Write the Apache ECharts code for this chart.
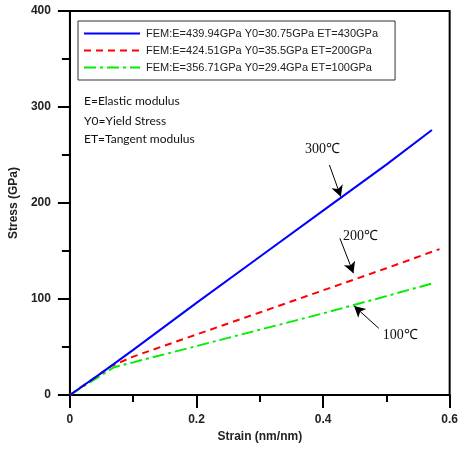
<!DOCTYPE html>
<html><head><meta charset="utf-8">
<script src="https://cdn.jsdelivr.net/npm/echarts@6/dist/echarts.min.js"></script>
<style>html,body{margin:0;padding:0;background:#fff}#c{width:461px;height:450px}</style>
</head><body><div id="c"></div>
<script>
const seriesNames = [
  'FEM:E=439.94GPa Y0=30.75GPa ET=430GPa',
  'FEM:E=424.51GPa Y0=35.5GPa ET=200GPa',
  'FEM:E=356.71GPa Y0=29.4GPa ET=100GPa'
];
const blueStrain  = [0, 0.05, 0.1, 0.2, 0.3, 0.4, 0.5, 0.572];
const blueStress  = [0, 23, 47, 96, 144, 192, 240, 276];
const redStrain   = [0, 0.065, 0.1, 0.2, 0.3, 0.4, 0.5, 0.584];
const redStress   = [0, 30, 40, 63, 86, 109, 132, 152];
const greenStrain = [0, 0.07, 0.1, 0.2, 0.3, 0.4, 0.5, 0.577];
const greenStress = [0, 29, 34, 51, 68, 85, 103, 117];
const notes = ['E=Elastic modulus', 'Y0=Yield Stress', 'ET=Tangent modulus'];
const tempLabels = ['300℃', '200℃', '100℃'];
const tempLabelPos = [[0.399, 256], [0.459, 165], [0.522, 62.5]];
const arrowFrom = [[0.41, 239.6], [0.4266, 163.2], [0.488, 69.5]];
const arrowTo   = [[0.428, 206.6], [0.448, 126.8], [0.449, 92.7]];

const zip = (a, b) => a.map((v, i) => [v, b[i]]);
const chart = echarts.init(document.getElementById('c'));
const colors = ['#0000ff', '#ff0000', '#00ee00'];
const types = ['solid', [7, 5], [12, 4, 3, 4]];
const datas = [zip(blueStrain, blueStress), zip(redStrain, redStress), zip(greenStrain, greenStress)];

const series = datas.map((d, i) => ({
  name: seriesNames[i], type: 'line', data: d, symbol: 'none', smooth: false,
  lineStyle: { color: colors[i], width: 2, type: types[i] },
  itemStyle: { color: colors[i] },
  z: 3 - i,
  silent: true, animation: false
}));
series.push({
  type: 'line', data: [], silent: true, animation: false,
  markLine: {
    silent: true, symbol: ['none', 'arrow'], symbolSize: [9, 11],
    lineStyle: { color: '#000', width: 1, type: 'solid' }, label: { show: false },
    data: arrowFrom.map((f, i) => [{ coord: f }, { coord: arrowTo[i] }])
  },
  markPoint: {
    silent: true, symbol: 'circle', symbolSize: 0,
    label: { show: true, position: 'inside', fontFamily: 'Liberation Serif', fontSize: 14, color: '#111',
      formatter: p => p.name },
    data: tempLabels.map((t, i) => ({ name: t, coord: tempLabelPos[i] }))
  }
});

const tickFont = { fontFamily: 'Liberation Sans', fontWeight: 'bold', fontSize: 12, color: '#222' };
chart.setOption({
  animation: false,
  backgroundColor: '#fff',
  grid: { left: 67, right: 9, top: 11, bottom: 55, show: true, borderColor: '#000', borderWidth: 2 },
  legend: {
    orient: 'vertical', left: 78, top: 21, width: 316,
    data: seriesNames,
    itemWidth: 56, itemHeight: 10, itemGap: 6,
    padding: [7, 17, 7, 5],
    borderColor: '#333', borderWidth: 1,
    itemStyle: { opacity: 0 },
    textStyle: { fontFamily: 'Liberation Sans', fontSize: 11, color: '#222', padding: [0, 0, 0, 1] },
    selectedMode: false
  },
  graphic: notes.map((t, i) => ({
    type: 'text', left: 84, top: 95 + [0, 20, 38][i],
    style: { text: t, font: '12px Lato', fill: '#111' }
  })),
  xAxis: {
    type: 'value', min: 0, max: 0.6, interval: 0.2,
    name: 'Strain (nm/nm)', nameLocation: 'middle', nameGap: 36,
    nameTextStyle: tickFont,
    axisLine: { lineStyle: { color: '#000', width: 2 } },
    axisTick: { show: true, inside: false, length: 13, lineStyle: { color: '#000', width: 2 } },
    minorTick: { show: true, splitNumber: 2, length: 7, lineStyle: { color: '#000', width: 2 } },
    axisLabel: Object.assign({ margin: 19 }, tickFont),
    splitLine: { show: false }
  },
  yAxis: {
    type: 'value', min: 0, max: 400, interval: 100,
    name: 'Stress (GPa)', nameLocation: 'middle', nameGap: 39,
    nameTextStyle: tickFont,
    axisLine: { lineStyle: { color: '#000', width: 2 } },
    axisTick: { show: true, inside: false, length: 12, lineStyle: { color: '#000', width: 2 } },
    minorTick: { show: true, splitNumber: 2, length: 8, lineStyle: { color: '#000', width: 2 } },
    axisLabel: Object.assign({ margin: 19 }, tickFont),
    splitLine: { show: false }
  },
  series: series
});
</script></body></html>
